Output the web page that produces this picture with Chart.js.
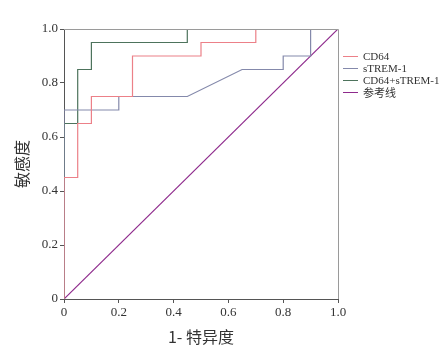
<!DOCTYPE html>
<html><head><meta charset="utf-8">
<script src="https://cdn.jsdelivr.net/npm/chart.js@4.4.0/dist/chart.umd.min.js"></script>
<style>
html,body{margin:0;padding:0;background:#fff;}
#wrap{position:relative;width:446px;height:349px;}
#legend{position:absolute;left:343px;top:50px;font-family:"Liberation Serif",serif;font-size:11px;color:#333;}
.row{height:12px;line-height:12px;display:flex;align-items:center;white-space:nowrap;}
.sw{width:15px;height:0;border-top:1.2px solid;margin-right:5px;}
.cjk{font-family:"Noto Sans CJK SC",sans-serif;font-size:11px;}
</style></head><body>
<div id="wrap"><canvas id="c" width="446" height="349"></canvas>
<div id="legend"></div></div>
<script>
const seriesNames = ["CD64", "sTREM-1", "CD64+sTREM-1", "参考线"];
const seriesColors = ["#ec8088", "#8489ab", "#4d735c", "#8e2a8c"];
const cd64X = [0, 0, 0.05, 0.05, 0.1, 0.1, 0.25, 0.25, 0.5, 0.5, 0.7, 0.7, 1];
const cd64Y = [0, 0.45, 0.45, 0.65, 0.65, 0.75, 0.75, 0.9, 0.9, 0.95, 0.95, 1, 1];
const stremX = [0, 0, 0.2, 0.2, 0.45, 0.65, 0.8, 0.8, 0.9, 0.9, 1];
const stremY = [0, 0.7, 0.7, 0.75, 0.75, 0.85, 0.85, 0.9, 0.9, 1, 1];
const comboX = [0, 0, 0.05, 0.05, 0.1, 0.1, 0.45, 0.45, 1];
const comboY = [0, 0.65, 0.65, 0.85, 0.85, 0.95, 0.95, 1, 1];
const refX = [0, 1];
const refY = [0, 1];
const tickValues = [0, 0.2, 0.4, 0.6, 0.8, 1.0];
const tickLabels = ["0", "0.2", "0.4", "0.6", "0.8", "1.0"];

function pts(xs, ys){ return xs.map((x,i)=>({x:x, y:ys[i]})); }
const allX = [cd64X, stremX, comboX, refX];
const allY = [cd64Y, stremY, comboY, refY];

const datasets = seriesNames.map((n,i)=>({
  label:n, data:pts(allX[i], allY[i]), showLine:true, borderColor:seriesColors[i],
  borderWidth:1.2, pointRadius:0, tension:0, fill:false
}));

const frame = {
  id:'frame',
  afterDatasetsDraw(chart){
    const a = chart.chartArea, ctx = chart.ctx;
    ctx.save();
    ctx.strokeStyle = '#9a9a9a'; ctx.lineWidth = 1;
    ctx.beginPath();
    ctx.moveTo(a.left, a.top+0.5); ctx.lineTo(a.right+0.5, a.top+0.5); ctx.lineTo(a.right+0.5, a.bottom);
    ctx.stroke();
    ctx.restore();
  }
};

const tickFont = {family:"Liberation Serif", size:13};
new Chart(document.getElementById('c'), {
  type:'scatter',
  data:{datasets},
  options:{
    responsive:false, animation:false,
    layout:{padding:{left:12, top:29, right:108, bottom:2}},
    plugins:{legend:{display:false}, tooltip:{enabled:false}},
    scales:{
      x:{type:'linear', min:0, max:1,
        afterBuildTicks(s){ s.ticks = tickValues.map(v=>({value:v})); },
        afterFit(s){ s.height = 48; },
        ticks:{color:'#333', font:tickFont, padding:2, maxRotation:0,
          callback:(v)=>tickLabels[tickValues.indexOf(v)] },
        grid:{drawOnChartArea:false, drawTicks:true, tickLength:4, color:'#555'},
        border:{color:'#555', width:1},
        title:{display:true, text:'1- 特异度', color:'#333', padding:0,
          font:{family:"Noto Sans CJK SC", size:16}}
      },
      y:{type:'linear', min:0, max:1,
        afterBuildTicks(s){ s.ticks = tickValues.map(v=>({value:v})); },
        afterFit(s){ s.width = 52; },
        ticks:{color:'#333', font:tickFont, padding:2,
          callback:(v)=>tickLabels[tickValues.indexOf(v)] },
        grid:{drawOnChartArea:false, drawTicks:true, tickLength:4, color:'#555'},
        border:{color:'#555', width:1},
        title:{display:true, text:'敏感度', color:'#333', padding:0,
          font:{family:"Noto Sans CJK SC", size:16}}
      }
    }
  },
  plugins:[frame]
});

const lg = document.getElementById('legend');
seriesNames.forEach((n,i)=>{
  const r = document.createElement('div'); r.className='row';
  const s = document.createElement('span'); s.className='sw'; s.style.borderTopColor = seriesColors[i];
  const t = document.createElement('span'); t.textContent = n;
  if (/[\u4e00-\u9fff]/.test(n)) t.className='cjk';
  r.appendChild(s); r.appendChild(t); lg.appendChild(r);
});
</script>
</body></html>
